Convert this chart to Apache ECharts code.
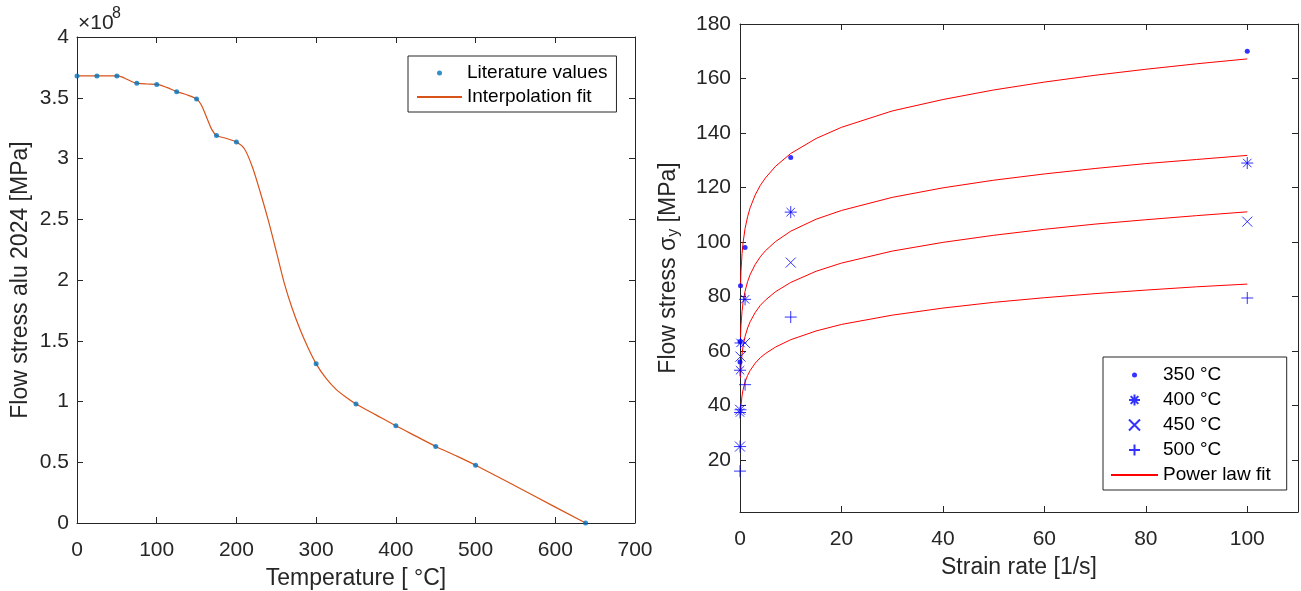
<!DOCTYPE html>
<html><head><meta charset="utf-8">
<script src="https://cdn.jsdelivr.net/npm/echarts@6/dist/echarts.min.js"></script>
<style>html,body{margin:0;padding:0;background:#fff}#c{width:1301px;height:591px}</style>
</head><body><div id="c"></div>
<script>
// ---- Left chart: flow stress vs temperature ----
const tempC = [0, 25, 50, 75, 100, 125, 150, 175, 200, 300, 350, 400, 450, 500, 638];
const flowStress = [3.68e8, 3.68e8, 3.68e8, 3.62e8, 3.61e8, 3.55e8, 3.49e8, 3.19e8, 3.135e8, 1.31e8, 0.98e8, 0.80e8, 0.63e8, 0.476e8, 0];
const fitTempC = [0, 25, 50, 56, 62.5, 69, 75, 87.5, 100, 112.5, 125, 137.5, 150, 156, 162.5, 169, 175, 187.5, 200, 210, 220, 230, 240, 250, 260, 270, 280, 290, 300, 312.5, 325, 337.5, 350, 375, 400, 425, 450, 475, 500, 569, 638];
const fitStress = [3.68e8, 3.68e8, 3.68e8, 3.672e8, 3.652e8, 3.632e8, 3.62e8, 3.613e8, 3.61e8, 3.585e8, 3.55e8, 3.525e8, 3.49e8, 3.44e8, 3.34e8, 3.24e8, 3.19e8, 3.165e8, 3.135e8, 3.08e8, 2.93e8, 2.72e8, 2.49e8, 2.235e8, 1.975e8, 1.765e8, 1.59e8, 1.44e8, 1.31e8, 1.19e8, 1.10e8, 1.035e8, 0.98e8, 0.89e8, 0.80e8, 0.715e8, 0.63e8, 0.555e8, 0.476e8, 0.238e8, 0];
const leftXTicks = {min: 0, max: 700, interval: 100};
const leftYTicks = {min: 0, max: 4e8, interval: 0.5e8};

// ---- Right chart: flow stress vs strain rate ----
const strainRate = [0.001, 0.01, 0.1, 1, 10, 100];
const stress350 = [56, 63.5, 84, 98, 131, 170];
const stress400 = [37.5, 53, 63, 79, 111, 129];
const stress450 = [25, 38.5, 58, 63, 92.5, 107.5];
const stress500 = [16, 25, 38.5, 47.7, 72.5, 79.5];
const fitRate = [0.1, 0.2, 0.4, 0.6, 1, 1.5, 2, 3, 4, 5, 7, 10, 15, 20, 30, 40, 50, 60, 70, 80, 90, 100];
const fit350 = [83.2, 89.3, 95.7, 99.7, 105, 109.3, 112.6, 117.3, 120.8, 123.5, 127.8, 132.5, 138.0, 142.1, 148.1, 152.3, 155.8, 158.7, 161.2, 163.4, 165.4, 167.2];
const fit400 = [64.7, 69.5, 74.6, 77.8, 82, 85.5, 88.1, 91.8, 94.6, 96.8, 100.2, 104.0, 108.4, 111.6, 116.4, 119.9, 122.7, 125.0, 127.0, 128.8, 130.3, 131.8];
const fit450 = [50.2, 54.4, 58.9, 61.7, 65.4, 68.5, 70.8, 74.2, 76.8, 78.7, 81.8, 85.2, 89.3, 92.3, 96.7, 99.9, 102.5, 104.7, 106.6, 108.2, 109.7, 111.1];
const fit500 = [36.9, 40.1, 43.6, 45.8, 48.7, 51.1, 52.9, 55.6, 57.6, 59.1, 61.5, 64.2, 67.4, 69.8, 73.2, 75.8, 77.9, 79.6, 81.1, 82.4, 83.6, 84.6];
const tempLabels = ['350 °C', '400 °C', '450 °C', '500 °C'];
const rightXTicks = {min: 0, max: 110, interval: 20};
const rightYRange = {min: 1, max: 180, splitNumber: 9};

const zip = (xs, ys) => xs.map((x, i) => [x, ys[i]]);
const FONT = '"Liberation Sans", Arial, Helvetica, sans-serif';
const AX = '#262626';
const DOT10 = 'path://M0,0M10,10M2.5,5a2.5,2.5 0 1 0 5,0a2.5,2.5 0 1 0 -5,0z';
const DOT11 = 'path://M0,0M11,11M3,5.5a2.5,2.5 0 1 0 5,0a2.5,2.5 0 1 0 -5,0z';
const STAR = 'path://M0,6L12,6M6,0L6,12M1.8,1.8L10.2,10.2M10.2,1.8L1.8,10.2';
const CROSS = 'path://M0,0L10,10M10,0L0,10';
const PLUS = 'path://M0,6L12,6M6,0L6,12';

function axis(o) {
  const base = {
    type: 'value',
    axisLine: {show: true, onZero: false, lineStyle: {color: AX, width: 1}},
    axisTick: {show: true, inside: true, length: 6, lineStyle: {color: AX, width: 1}},
    axisLabel: {show: true, color: AX, fontSize: 21, fontFamily: FONT},
    splitLine: {show: false},
    nameTextStyle: {color: AX, fontSize: 23, fontFamily: FONT},
    nameLocation: 'middle'
  };
  const r = Object.assign({}, base, o);
  if (o.axisLabel) r.axisLabel = Object.assign({}, base.axisLabel, o.axisLabel);
  if (o.nameTextStyle) r.nameTextStyle = Object.assign({}, base.nameTextStyle, o.nameTextStyle);
  return r;
}

const chart = echarts.init(document.getElementById('c'), null, {renderer: 'canvas'});
chart.setOption({
  animation: false,
  backgroundColor: '#fff',
  textStyle: {fontFamily: FONT},
  grid: [
    {left: 77, right: 666, top: 37, bottom: 68, containLabel: false, outerBoundsMode: 'none'},
    {left: 740, right: 3, top: 24, bottom: 79, containLabel: false, outerBoundsMode: 'none'}
  ],
  xAxis: [
    axis(Object.assign({gridIndex: 0, position: 'bottom', name: 'Temperature [ °C]', nameGap: 44, axisLabel: {margin: 17}}, leftXTicks)),
    axis(Object.assign({gridIndex: 0, position: 'top', axisLabel: {show: false}}, leftXTicks)),
    axis(Object.assign({gridIndex: 1, position: 'bottom', name: 'Strain rate [1/s]', nameGap: 44, axisLabel: {margin: 17, showMaxLabel: false}}, rightXTicks)),
    axis(Object.assign({gridIndex: 1, position: 'top', axisLabel: {show: false}}, rightXTicks))
  ],
  yAxis: [
    axis(Object.assign({gridIndex: 0, position: 'left', name: 'Flow stress alu 2024 [MPa]', nameGap: 45,
      axisLabel: {margin: 8, formatter: v => String(+(v / 1e8).toFixed(2))}}, leftYTicks)),
    axis(Object.assign({gridIndex: 0, position: 'right', axisLabel: {show: false}}, leftYTicks)),
    axis(Object.assign({gridIndex: 1, position: 'left', name: 'Flow stress {g|σ}{s|y} [MPa]', nameGap: 58,
      axisLabel: {margin: 9, showMinLabel: false},
      nameTextStyle: {lineHeight: 26, rich: {g: {fontSize: 23, color: AX, fontFamily: FONT, lineHeight: 26}, s: {fontSize: 16, color: AX, fontFamily: FONT, lineHeight: 14, verticalAlign: 'bottom'}}}}, rightYRange)),
    axis(Object.assign({gridIndex: 1, position: 'right', axisLabel: {show: false}}, rightYRange))
  ],
  legend: [
    {
      data: ['Literature values', {name: 'Interpolation fit', itemStyle: {opacity: 0}}],
      orient: 'vertical', left: 408, top: 56,
      itemWidth: 45, itemHeight: 10, itemGap: 4,
      padding: [7, 9, 5, 8],
      backgroundColor: '#fff', borderColor: AX, borderWidth: 1, borderRadius: 0,
      textStyle: {fontFamily: FONT, fontSize: 19, color: '#000', lineHeight: 20},
      selectedMode: false
    },
    {
      data: tempLabels.concat([{name: 'Power law fit', itemStyle: {opacity: 0}}]),
      orient: 'vertical', left: 1103, top: 357,
      itemWidth: 47, itemHeight: 11, itemGap: 5,
      padding: [8, 16, 5, 7],
      backgroundColor: '#fff', borderColor: AX, borderWidth: 1, borderRadius: 0,
      textStyle: {fontFamily: FONT, fontSize: 19, color: '#000', lineHeight: 20},
      selectedMode: false
    }
  ],
  graphic: [
    {type: 'text', left: 78, top: 13, style: {text: '×10', font: '21px ' + FONT, fill: AX}},
    {type: 'text', left: 112, top: 6, style: {text: '8', font: '16px ' + FONT, fill: AX}}
  ],
  series: [
    {type: 'line', name: 'Interpolation fit', xAxisIndex: 0, yAxisIndex: 0, data: zip(fitTempC, fitStress),
      smooth: 0.3, symbol: 'none', showSymbol: false, color: '#D95319',
      itemStyle: {opacity: 0}, lineStyle: {color: '#D95319', width: 1.2}, z: 2},
    {type: 'scatter', name: 'Literature values', xAxisIndex: 0, yAxisIndex: 0, data: zip(tempC, flowStress),
      symbol: DOT10, symbolSize: 10, itemStyle: {color: '#0072BD'}, z: 3, clip: false},
    {type: 'scatter', name: tempLabels[0], xAxisIndex: 2, yAxisIndex: 2, data: zip(strainRate, stress350),
      symbol: DOT11, symbolSize: 11, itemStyle: {color: '#0000FF'}, z: 3, clip: false},
    {type: 'scatter', name: tempLabels[1], xAxisIndex: 2, yAxisIndex: 2, data: zip(strainRate, stress400),
      symbol: STAR, symbolSize: 12, itemStyle: {color: 'rgba(0,0,255,0)', borderColor: '#0000FF', borderWidth: 1}, z: 3, clip: false},
    {type: 'scatter', name: tempLabels[2], xAxisIndex: 2, yAxisIndex: 2, data: zip(strainRate, stress450),
      symbol: CROSS, symbolSize: 10, itemStyle: {color: 'rgba(0,0,255,0)', borderColor: '#0000FF', borderWidth: 1}, z: 3, clip: false},
    {type: 'scatter', name: tempLabels[3], xAxisIndex: 2, yAxisIndex: 2, data: zip(strainRate, stress500),
      symbol: PLUS, symbolSize: 12, itemStyle: {color: 'rgba(0,0,255,0)', borderColor: '#0000FF', borderWidth: 1}, z: 3, clip: false},
    ...[fit350, fit400, fit450, fit500].map(f => ({
      type: 'line', name: 'Power law fit', xAxisIndex: 2, yAxisIndex: 2, data: zip(fitRate, f),
      smooth: false, symbol: 'none', showSymbol: false, color: '#FF0000',
      itemStyle: {opacity: 0}, lineStyle: {color: '#FF0000', width: 1}, z: 2
    }))
  ]
});
</script>
</body></html>
